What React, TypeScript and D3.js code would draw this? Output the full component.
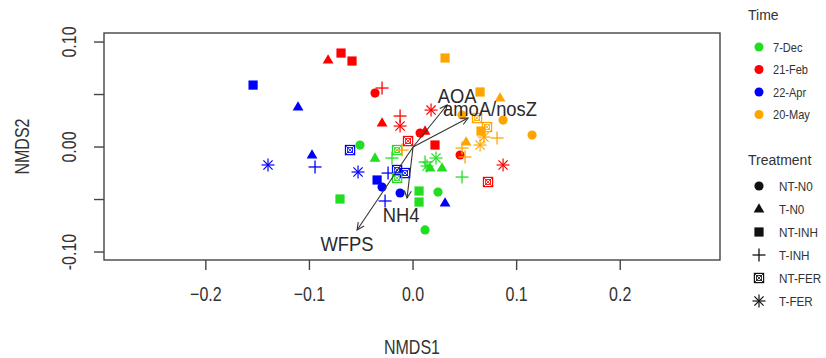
import React from "react";
import * as d3 from "d3";

const timeLevels = ["7-Dec", "21-Feb", "22-Apr", "20-May"];
const timeColors = ["#22dd22", "#ff0000", "#0000ff", "#ffa500"];
const treatmentLevels = ["NT-N0", "T-N0", "NT-INH", "T-INH", "NT-FER", "T-FER"];
const treatmentShapes = ["circle", "triangle", "square", "plus", "boxx", "star"];

// sample time index (0..3), treatment index (0..5), NMDS coordinates
const sampleTime = [
  2, 2, 2, 2, 2, 2, 2, 2, 2, 2, 2, 2, 2, 2, 2,
  1, 1, 1, 1, 1, 1, 1, 1, 1, 1, 1, 1, 1, 1, 1, 1,
  0, 0, 0, 0, 0, 0, 0, 0, 0, 0, 0, 0, 0, 0, 0, 0,
  3, 3, 3, 3, 3, 3, 3, 3, 3, 3, 3, 3, 3, 3, 3, 3,
];
const sampleTreatment = [
  2, 1, 1, 1, 2, 0, 0, 4, 4, 4, 5, 5, 3, 3, 3,
  1, 1, 1, 2, 2, 2, 0, 0, 0, 3, 3, 5, 5, 5, 4, 4,
  0, 0, 0, 1, 1, 1, 2, 2, 2, 3, 3, 3, 5, 5, 4, 4,
  2, 2, 2, 0, 0, 0, 1, 1, 3, 3, 3, 3, 5, 5, 4, 4,
];
const nmds1 = [
  -0.1544, -0.111, -0.0975, 0.0309, -0.0347, -0.0299, -0.0125, -0.0608, -0.0154, -0.0077, -0.14, -0.0531, -0.0946, -0.0241, -0.027,
  -0.082, -0.0299, 0.0116, -0.0695, -0.0589, 0.0212, -0.0367, 0.0068, 0.0454, -0.0299, -0.0125, -0.0125, 0.0174, 0.0869, -0.0048, 0.0724,
  -0.0512, 0.0241, 0.0116, -0.0367, 0.0164, 0.028, -0.0705, 0.0058, 0.0058, -0.0203, 0.0473, 0.0116, 0.0222, 0.0135, -0.0154, -0.0154,
  0.0309, 0.0647, 0.0656, 0.0473, 0.0869, 0.1149, 0.084, 0.0512, 0.0811, 0.0473, 0.0502, -0.0106, 0.0647, 0.0685, 0.0618, 0.0714,
];
const nmds2 = [
  0.059, 0.0381, -0.0076, -0.0533, -0.0314, -0.0381, -0.0438, -0.0029, -0.0219, -0.0248, -0.0171, -0.0238, -0.019, -0.0248, -0.0514,
  0.0829, 0.0229, 0.0152, 0.0895, 0.0819, 0.0019, 0.0514, 0.0133, -0.0076, 0.0562, 0.0295, 0.02, 0.0352, -0.0171, 0.0057, -0.0333,
  0.0019, -0.0429, -0.079, -0.0105, -0.02, -0.02, -0.0495, -0.0419, -0.0524, -0.0105, -0.0286, -0.0143, -0.0105, -0.0181, -0.0029, -0.0295,
  0.0848, 0.0524, 0.0152, 0.0305, 0.0257, 0.0114, 0.0467, 0.0048, 0.0086, -0.001, -0.0095, -0.0029, 0.0019, 0.0095, 0.0276, 0.019,
];

const vectorNames = ["AOA", "amoA/nosZ", "NH4", "WFPS"];
const vectorX = [0.0328, 0.0531, -0.0058, -0.054];
const vectorY = [0.04, 0.0276, -0.0486, -0.079];
const vectorLabelX = [0.0425, 0.0743, -0.0116, -0.0637];
const vectorLabelY = [0.0486, 0.0362, -0.0648, -0.0924];

const xTicks = [-0.2, -0.1, 0, 0.1, 0.2];
const yTicks = [-0.1, -0.05, 0, 0.05, 0.1];
const yTickLabels = ["-0.10", "", "0.00", "", "0.10"];

const W = 826;
const H = 358;
const L = 104, R = 720, T = 33, B = 260;
const FONT = "'Liberation Sans', Arial, sans-serif";
const TXT = "#333";

function Marker({ shape, color, x, y }: { shape: string; color: string; x: number; y: number }) {
  const t = `translate(${x},${y})`;
  switch (shape) {
    case "circle":
      return <circle cx={x} cy={y} r={4.6} fill={color} />;
    case "triangle":
      return <path transform={t} d="M0,-5.8L5.4,3.6L-5.4,3.6Z" fill={color} />;
    case "square":
      return <rect x={x - 4.6} y={y - 4.6} width={9.2} height={9.2} fill={color} />;
    case "plus":
      return (
        <g transform={t} stroke={color} strokeWidth={1.3}>
          <line x1={-6.5} x2={6.5} y1={0} y2={0} />
          <line x1={0} x2={0} y1={-6.5} y2={6.5} />
        </g>
      );
    case "boxx":
      return (
        <g transform={t} stroke={color} strokeWidth={1.2} fill="none">
          <rect x={-4.6} y={-4.6} width={9.2} height={9.2} />
          <rect x={-2.4} y={-2.4} width={4.8} height={4.8} strokeWidth={0.9} />
          <line x1={-4.6} y1={-4.6} x2={4.6} y2={4.6} strokeWidth={0.8} />
          <line x1={-4.6} y1={4.6} x2={4.6} y2={-4.6} strokeWidth={0.8} />
        </g>
      );
    case "star":
      return (
        <g transform={t} stroke={color} strokeWidth={1.2}>
          <line x1={-6.5} x2={6.5} y1={0} y2={0} />
          <line x1={0} x2={0} y1={-6.5} y2={6.5} />
          <line x1={-4.6} x2={4.6} y1={-4.6} y2={4.6} />
          <line x1={-4.6} x2={4.6} y1={4.6} y2={-4.6} />
        </g>
      );
    default:
      return null;
  }
}

export default function App() {
  const x = d3.scaleLinear().domain([-0.2983, 0.2963]).range([L, R]);
  const y = d3.scaleLinear().domain([-0.1076, 0.1086]).range([B, T]);

  const arrowHead = (x0: number, y0: number, x1: number, y1: number) => {
    const ang = Math.atan2(y1 - y0, x1 - x0);
    const len = 8;
    const a1 = ang + Math.PI - 0.45;
    const a2 = ang + Math.PI + 0.45;
    return `M${x1 + len * Math.cos(a1)},${y1 + len * Math.sin(a1)}L${x1},${y1}L${x1 + len * Math.cos(a2)},${y1 + len * Math.sin(a2)}`;
  };

  return (
    <svg width={W} height={H} style={{ position: "absolute", left: 0, top: 0, background: "#fff" }} fontFamily={FONT}>
      <rect x={0} y={0} width={W} height={H} fill="#fff" />
      {nmds1.map((v, i) => (
        <Marker key={i} shape={treatmentShapes[sampleTreatment[i]]} color={timeColors[sampleTime[i]]} x={x(v)} y={y(nmds2[i])} />
      ))}
      {vectorNames.map((n, i) => {
        const x0 = x(0), y0 = y(0), x1 = x(vectorX[i]), y1 = y(vectorY[i]);
        return (
          <g key={n} stroke="#333" strokeWidth={1.1} fill="none">
            <line x1={x0} y1={y0} x2={x1} y2={y1} />
            <path d={arrowHead(x0, y0, x1, y1)} />
          </g>
        );
      })}
      {vectorNames.map((n, i) => (
        <text key={n} transform={`translate(${x(vectorLabelX[i])},${y(vectorLabelY[i])}) scale(0.92,1)`} textAnchor="middle" dominantBaseline="central" fontSize={20} fill="#2a2a2a">
          {n}
        </text>
      ))}
      <rect x={L} y={T} width={R - L} height={B - T} fill="none" stroke="#444" strokeWidth={1.4} />
      {xTicks.map((t) => (
        <g key={t}>
          <line x1={x(t)} x2={x(t)} y1={B} y2={B + 10} stroke="#444" strokeWidth={1.4} />
          <text transform={`translate(${x(t)},${B + 41}) scale(0.8,1)`} textAnchor="middle" fontSize={20} fill={TXT}>
            {d3.format(".1f")(t)}
          </text>
        </g>
      ))}
      {yTicks.map((t, i) => (
        <g key={t}>
          <line x1={L - 10} x2={L} y1={y(t)} y2={y(t)} stroke="#444" strokeWidth={1.4} />
          {yTickLabels[i] && (
            <text transform={`translate(${L - 28},${y(t)}) rotate(-90) scale(0.8,1)`} textAnchor="middle" fontSize={20} fill={TXT}>
              {yTickLabels[i]}
            </text>
          )}
        </g>
      ))}
      <text transform={`translate(${(L + R) / 2},${354}) scale(0.8,1)`} textAnchor="middle" fontSize={20} fill={TXT}>
        NMDS1
      </text>
      <text transform={`translate(${29},${(T + B) / 2}) rotate(-90) scale(0.8,1)`} textAnchor="middle" fontSize={20} fill={TXT}>
        NMDS2
      </text>
      <text x={748} y={20} fontSize={14} fill={TXT}>Time</text>
      {timeLevels.map((lv, i) => (
        <g key={lv}>
          <circle cx={759} cy={47 + i * 22.5} r={4.5} fill={timeColors[i]} />
          <text transform={`translate(773,${47 + i * 22.5 + 4.5}) scale(0.85,1)`} fontSize={13} fill={TXT}>{lv}</text>
        </g>
      ))}
      <text x={748} y={165} fontSize={14} fill={TXT}>Treatment</text>
      {treatmentLevels.map((lv, i) => (
        <g key={lv}>
          <Marker shape={treatmentShapes[i]} color="#111" x={759} y={186 + i * 23} />
          <text transform={`translate(779,${186 + i * 23 + 4.5}) scale(0.9,1)`} fontSize={13} fill={TXT}>{lv}</text>
        </g>
      ))}
    </svg>
  );
}
